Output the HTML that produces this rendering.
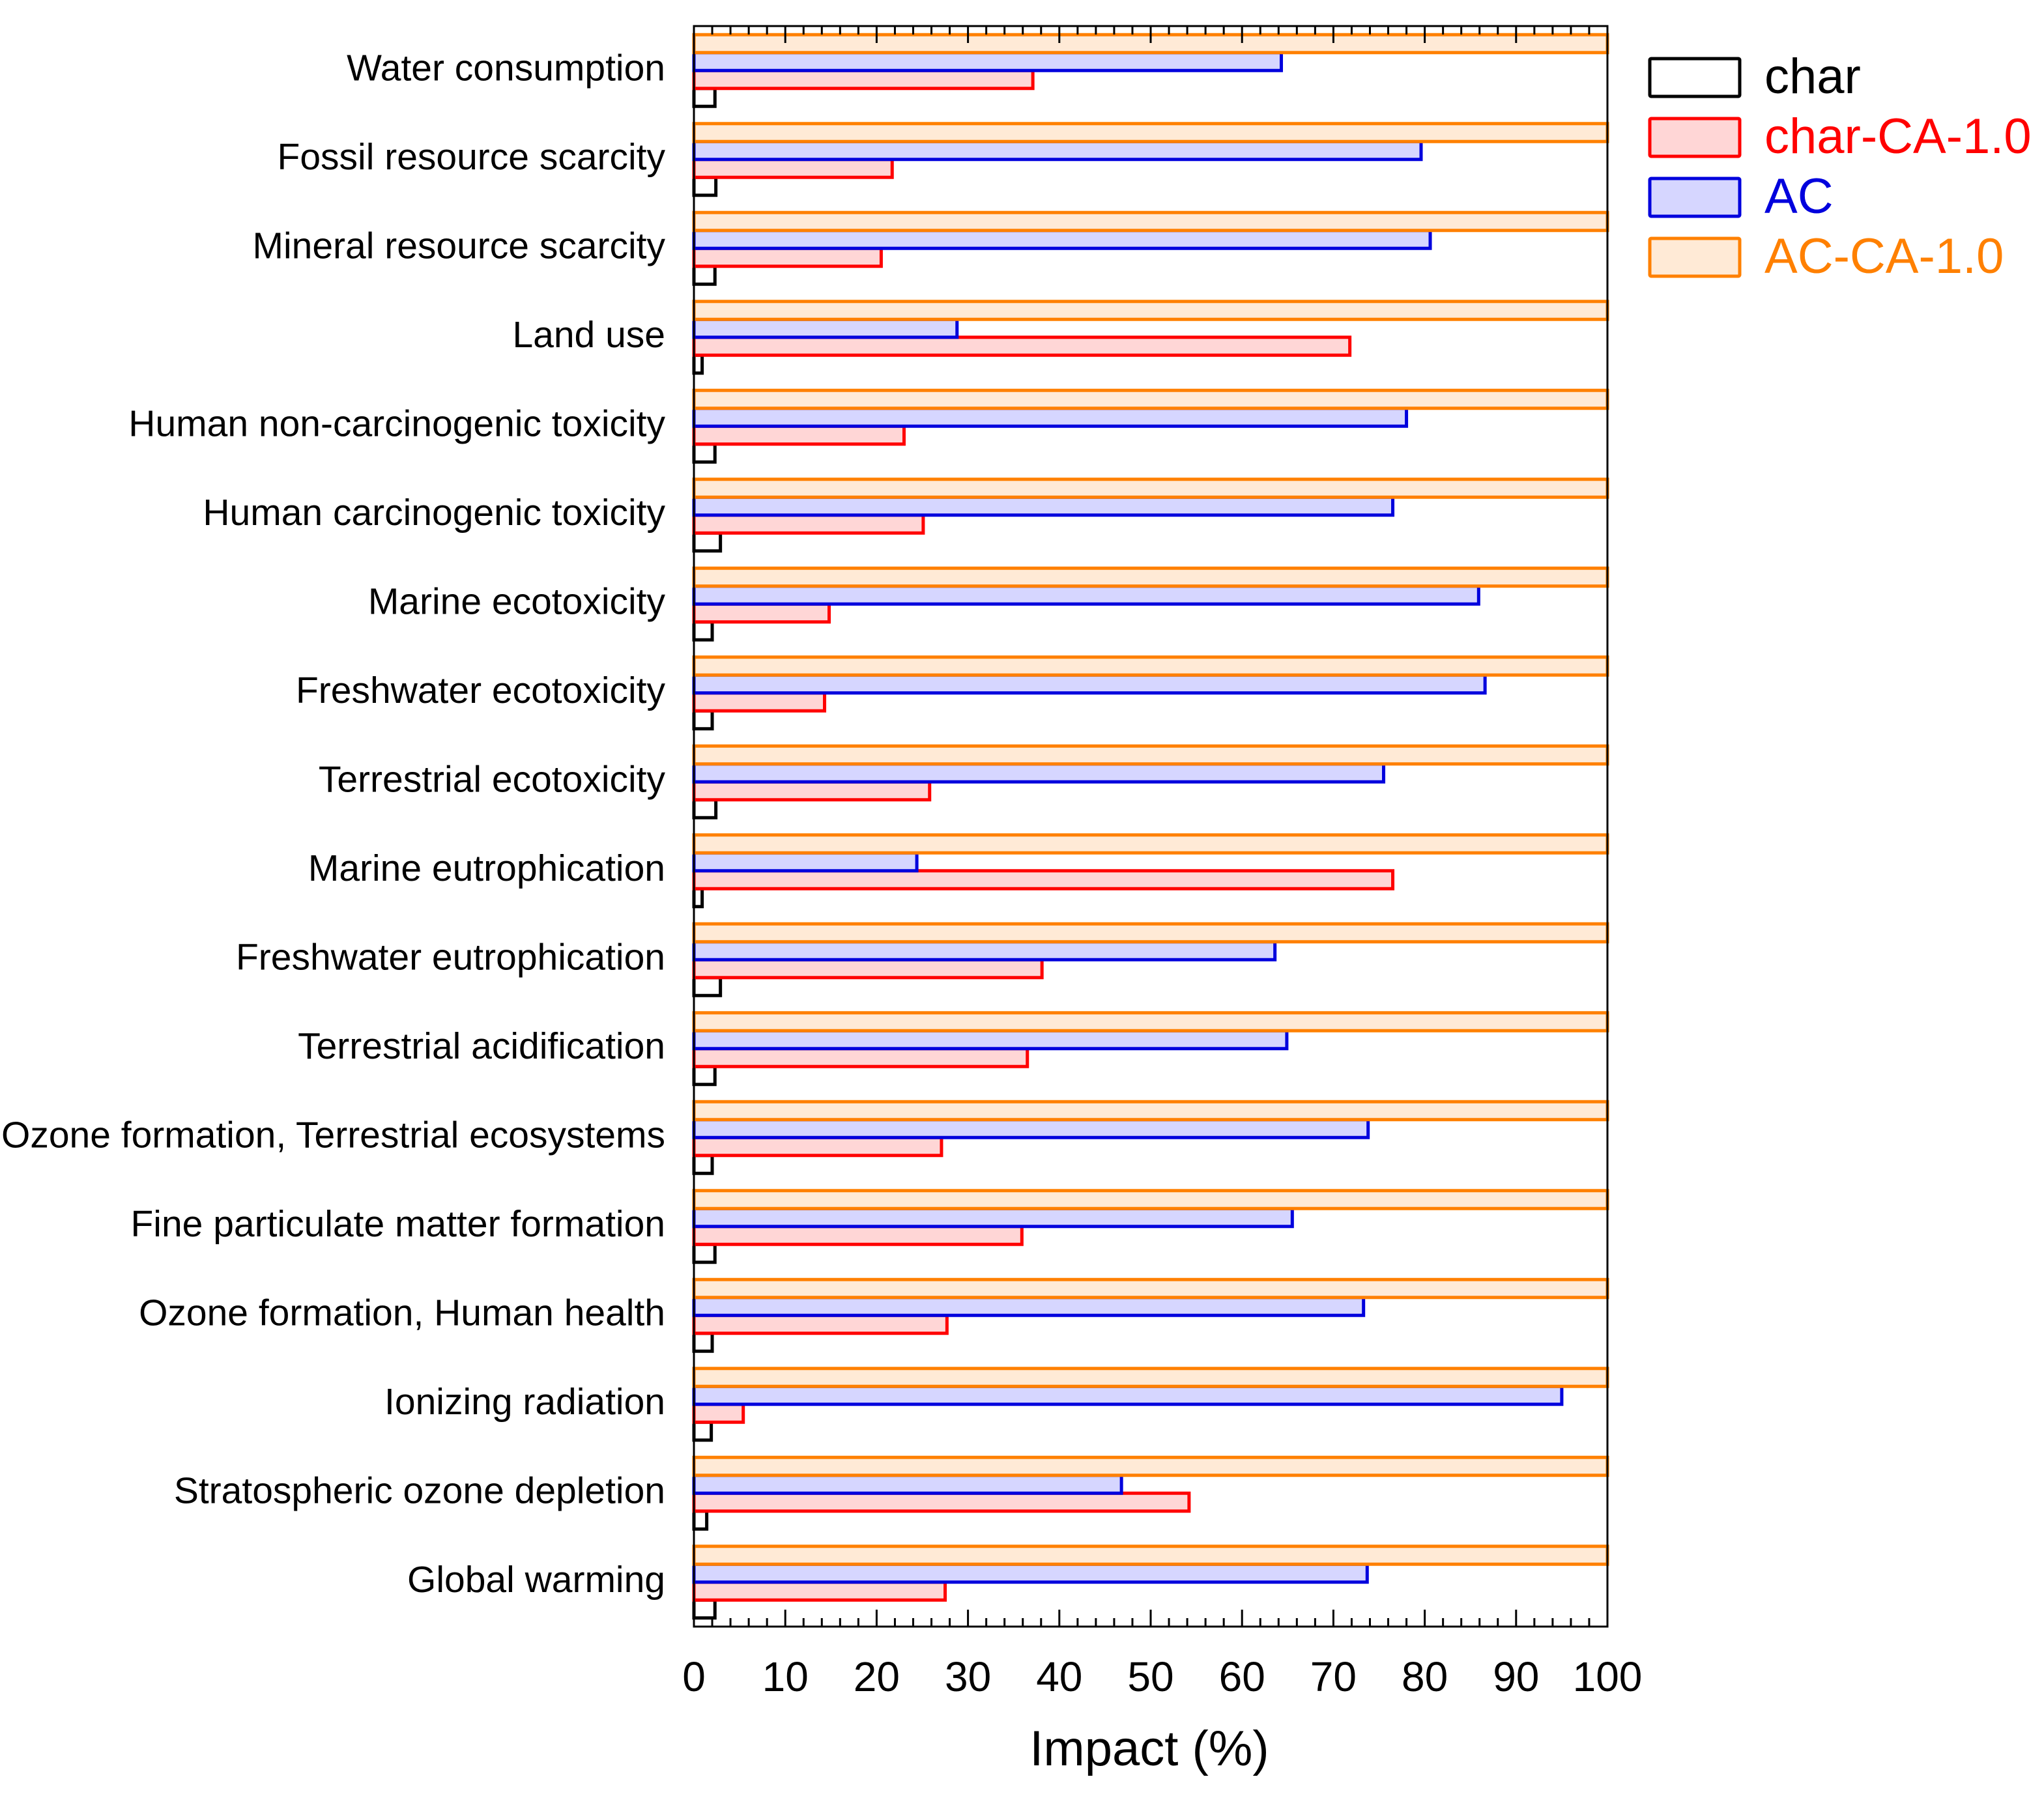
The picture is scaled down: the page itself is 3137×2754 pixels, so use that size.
<!DOCTYPE html>
<html><head><meta charset="utf-8"><style>html,body{margin:0;padding:0;background:#fff}svg{display:block}</style></head>
<body>
<svg id="chart" xmlns="http://www.w3.org/2000/svg" width="3137" height="2754" viewBox="0 0 3137 2754" font-family="Liberation Sans, Arial, sans-serif">
<g id="bars"></g>
<g id="axes"></g>
<g id="legend"></g>
</svg>
<script>
const categories = ["Water consumption","Fossil resource scarcity","Mineral resource scarcity","Land use","Human non-carcinogenic toxicity","Human carcinogenic toxicity","Marine ecotoxicity","Freshwater ecotoxicity","Terrestrial ecotoxicity","Marine eutrophication","Freshwater eutrophication","Terrestrial acidification","Ozone formation, Terrestrial ecosystems","Fine particulate matter formation","Ozone formation, Human health","Ionizing radiation","Stratospheric ozone depletion","Global warming"];
const charVals = [2.3,2.4,2.3,0.9,2.3,2.9,2.0,2.0,2.4,0.9,2.9,2.3,2.0,2.3,2.0,1.9,1.4,2.3];
const charCAVals = [37.1,21.7,20.5,71.8,23.0,25.1,14.8,14.3,25.8,76.5,38.1,36.5,27.1,35.9,27.7,5.4,54.2,27.5];
const acVals = [64.3,79.6,80.6,28.8,78.0,76.5,85.9,86.6,75.5,24.4,63.6,64.9,73.8,65.5,73.3,95.0,46.8,73.7];
const acCAVals = [100,100,100,100,100,100,100,100,100,100,100,100,100,100,100,100,100,100];
const xTicks = [0,10,20,30,40,50,60,70,80,90,100];
const seriesNames = ["char","char-CA-1.0","AC","AC-CA-1.0"];

const NS="http://www.w3.org/2000/svg";
const L=1065,R=2467,T=40,B=2497;
const x=v=>L+(v-0)/(100-0)*(R-L);
const gH=(B-T)/categories.length;
const barH=27.5;
const yBar=(i,k)=>T+gH*i+gH/2-2*barH+k*barH;
const strokes=["#000000","#ff0000","#0000dd","#ff8000"];
const fills=["#ffffff","#ffd6d6","#d6d6ff","#ffead6"];
function mk(tag,attrs,parent){const e=document.createElementNS(NS,tag);for(const k in attrs)e.setAttribute(k,attrs[k]);parent.appendChild(e);return e;}
const bars=document.getElementById('bars');
const series=[charVals,charCAVals,acVals,acCAVals];
const slugs=["char","char-ca","ac","ac-ca"];
categories.forEach((c,i)=>{
  for(let s=0;s<4;s++){
    const k=3-s;
    const r=mk('rect',{x:L,y:yBar(i,k),width:x(series[s][i])-L,height:barH,fill:fills[s],stroke:strokes[s],'stroke-width':5},bars);
    
    
  }
  const t=mk('text',{x:1021,y:T+gH*i+gH/2+15,'text-anchor':'end','font-size':57,fill:'#000'},bars);
  t.textContent=c;
  
  
});
const axes=document.getElementById('axes');
const frame=mk('rect',{x:L,y:T,width:R-L,height:B-T,fill:'none',stroke:'#000','stroke-width':3},axes);


for(let v=0;v<=100;v+=2){
  const len=(v%10===0)?26:13;
  mk('line',{x1:x(v),x2:x(v),y1:T,y2:T+len,stroke:'#000','stroke-width':3},axes);
  mk('line',{x1:x(v),x2:x(v),y1:B,y2:B-len,stroke:'#000','stroke-width':3},axes);
}
xTicks.forEach(v=>{
  const t=mk('text',{x:x(v),y:2596,'text-anchor':'middle','font-size':64,fill:'#000'},axes);
  t.textContent=v;
  
  
});
const xt=mk('text',{x:1764,y:2710,'text-anchor':'middle','font-size':76,fill:'#000'},axes);
xt.textContent="Impact (%)";


const lg=document.getElementById('legend');
seriesNames.forEach((n,s)=>{
  const y0=90+s*92;
  const r=mk('rect',{x:2532,y:y0,width:138,height:58,fill:fills[s],stroke:strokes[s],'stroke-width':5,rx:2},lg);
  
  
  const t=mk('text',{x:2708,y:y0+53,'font-size':76,fill:strokes[s]},lg);
  t.textContent=n;
  
  
});
</script>
</body></html>
